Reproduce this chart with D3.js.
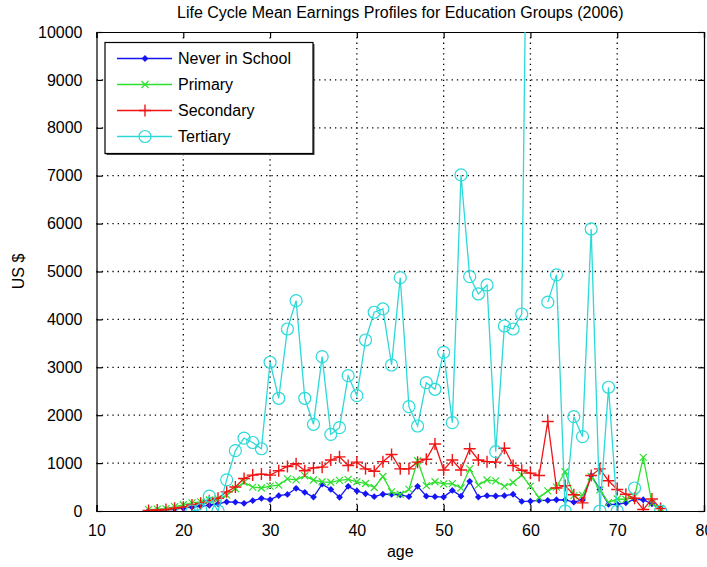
<!DOCTYPE html>
<html>
<head>
<meta charset="utf-8">
<script src="https://cdn.jsdelivr.net/npm/d3@7/dist/d3.min.js"></script>
<style>
  body { margin: 0; background: #fff; }
  text { font-family: "Liberation Sans", Arial, Helvetica, sans-serif; fill: #000; }
</style>
</head>
<body>
<svg id="chart" width="707" height="567"></svg>
<script>
// ages (x categories)
const ages = [16, 17, 18, 19, 20, 21, 22, 23, 24, 25, 26, 27, 28, 29, 30,
  31, 32, 33, 34, 35, 36, 37, 38, 39, 40, 41, 42, 43, 44, 45,
  46, 47, 48, 49, 50, 51, 52, 53, 54, 55, 56, 57, 58, 59, 60,
  61, 62, 63, 64, 65, 66, 67, 68, 69, 70, 71, 72, 73, 74, 75];

// mean earnings, US $
const neverInSchool = [5, 10, 20, 40, 60, 80, 100, 120, 150, 190, 185, 160, 215, 265, 237,
  320, 345, 474, 390, 290, 560, 450, 286, 515, 420, 360, 300, 350, 350, 335,
  300, 515, 310, 300, 290, 430, 310, 620, 290, 320, 313, 320, 350, 200, 205,
  220, 220, 235, 230, 185, 230, 740, 450, 140, 140, 170, 245, 235, 150, 56];

const primary = [30, 40, 50, 90, 130, 170, 190, 230, 250, 330, 470, 600, 500, 480, 520,
  540, 670, 650, 735, 647, 610, 600, 640, 660, 610, 575, 490, 720, 400, 350,
  450, 1050, 530, 610, 565, 570, 480, 880, 540, 647, 630, 515, 595, 750, 520,
  280, 420, 500, 820, 320, 330, 720, 440, 180, 250, 240, 300, 1120, 160, 56];

const secondary = [10, 20, 30, 60, 80, 125, 160, 215, 265, 400, 500, 680, 750, 770, 750,
  840, 930, 985, 840, 900, 915, 1065, 1130, 950, 1020, 880, 830, 1030, 1180, 880,
  880, 1020, 1080, 1400, 856, 1065, 856, 1300, 1065, 1030, 1020, 1310, 950, 850, 790,
  740, 1870, 480, 530, 340, 170, 740, 880, 630, 450, 350, 265, 30, 250, 50];

// null = no observation for that age
const tertiary = [null, null, null, null, null, 0, 30, 310, 0, 650, 1260, 1520, 1430, 1300, 3105,
  2353, 3800, 4391, 2353, 1810, 3222, 1600, 1740, 2825, 2408, 3570, 4149, 4218, 3048, 4871,
  2178, 1775, 2679, 2541, 3313, 1844, 7016, 4893, 4531, 4719, 1238, 3863, 3800, 4113, 19500,
  null, 4360, 4930, 0, 1969, 1552, 5888, 0, 2583, 0, null, 480, null, null, 0];

const xTicks = [10, 20, 30, 40, 50, 60, 70, 80];
const yTicks = [0, 1000, 2000, 3000, 4000, 5000, 6000, 7000, 8000, 9000, 10000];

const series = [
  { name: 'Never in School', values: neverInSchool, color: '#1414f5', marker: 'dot' },
  { name: 'Primary', values: primary, color: '#2ee02e', marker: 'x' },
  { name: 'Secondary', values: secondary, color: '#f01414', marker: 'plus' },
  { name: 'Tertiary', values: tertiary, color: '#2cd9d9', marker: 'circle' },
];

const svg = d3.select('#chart');
const margin = { top: 32, right: 3, bottom: 56, left: 96.5 };
const width = +svg.attr('width') - margin.left - margin.right;
const height = +svg.attr('height') - margin.top - margin.bottom;

const x = d3.scaleLinear().domain([10, 80]).range([0, width]);
const y = d3.scaleLinear().domain([0, 10000]).range([height, 0]);

const g = svg.append('g')
  .attr('transform', 'translate(' + margin.left + ',' + margin.top + ')');

g.append('clipPath').attr('id', 'plotClip')
  .append('rect').attr('width', width).attr('height', height);

// dotted grid
g.append('g').selectAll('line')
  .data(xTicks.slice(1, -1))
  .join('line')
  .attr('x1', (d) => x(d)).attr('x2', (d) => x(d))
  .attr('y1', 0).attr('y2', height)
  .attr('stroke', '#000').attr('stroke-width', 1.3)
  .attr('stroke-dasharray', '1.3,4');
g.append('g').selectAll('line')
  .data(yTicks.slice(1, -1))
  .join('line')
  .attr('y1', (d) => y(d)).attr('y2', (d) => y(d))
  .attr('x1', 0).attr('x2', width)
  .attr('stroke', '#000').attr('stroke-width', 1.3)
  .attr('stroke-dasharray', '1.3,4');

// axes, ticks point inwards (MATLAB style)
const tick = 6;
g.append('g')
  .attr('transform', 'translate(0,' + height + ')')
  .call(d3.axisBottom(x).tickValues(xTicks).tickSize(-tick).tickPadding(14).tickFormat(d3.format('d')));
g.append('g')
  .call(d3.axisTop(x).tickValues(xTicks).tickSize(-tick).tickFormat(''));
g.append('g')
  .call(d3.axisLeft(y).tickValues(yTicks).tickSize(-tick).tickPadding(14).tickFormat(d3.format('d')));
g.append('g')
  .attr('transform', 'translate(' + width + ',0)')
  .call(d3.axisRight(y).tickValues(yTicks).tickSize(-tick).tickFormat(''));

g.selectAll('.domain').attr('stroke', '#000').attr('stroke-width', 1.2);
g.selectAll('.tick line').attr('stroke', '#000').attr('stroke-width', 1.2);
g.selectAll('.tick text').attr('font-size', 16).style('font-family', '"Liberation Sans", Arial, sans-serif');

// series
const plot = g.append('g').attr('clip-path', 'url(#plotClip)');

function drawMarker(sel, type, color) {
  if (type === 'dot') {
    sel.append('path').attr('d', 'M0,-3.4L3.4,0L0,3.4L-3.4,0Z').attr('fill', color);
  } else if (type === 'x') {
    sel.append('path').attr('d', 'M-3.5,-3.5L3.5,3.5M-3.5,3.5L3.5,-3.5')
      .attr('stroke', color).attr('stroke-width', 1.2).attr('fill', 'none');
  } else if (type === 'plus') {
    sel.append('path').attr('d', 'M-6,0H6M0,-6V6')
      .attr('stroke', color).attr('stroke-width', 1.4).attr('fill', 'none');
  } else {
    sel.append('circle').attr('r', 6)
      .attr('stroke', color).attr('stroke-width', 1.2).attr('fill', 'none');
  }
}

series.forEach((s) => {
  const pts = ages.map((a, i) => ({ age: a, v: s.values[i] }));
  const line = d3.line()
    .defined((d) => d.v !== null)
    .x((d) => x(d.age))
    .y((d) => y(d.v));
  plot.append('path')
    .datum(pts)
    .attr('fill', 'none')
    .attr('stroke', s.color)
    .attr('stroke-width', 1.3)
    .attr('d', line);
  plot.append('g').selectAll('g')
    .data(pts.filter((d) => d.v !== null))
    .join('g')
    .attr('transform', (d) => 'translate(' + x(d.age) + ',' + y(d.v) + ')')
    .each(function () { drawMarker(d3.select(this), s.marker, s.color); });
});

// legend
const legend = g.append('g').attr('transform', 'translate(8.5,10.5)');
legend.append('rect')
  .attr('x', 1.5).attr('y', 1.5).attr('width', 208).attr('height', 111)
  .attr('fill', '#444');
legend.append('rect')
  .attr('width', 208).attr('height', 111)
  .attr('fill', '#fff').attr('stroke', '#000').attr('stroke-width', 1.2);
series.forEach((s, i) => {
  const row = legend.append('g').attr('transform', 'translate(0,' + (16 + i * 26) + ')');
  row.append('line')
    .attr('x1', 12).attr('x2', 67)
    .attr('stroke', s.color).attr('stroke-width', 1.3);
  drawMarker(row.append('g').attr('transform', 'translate(40,0)'), s.marker, s.color);
  row.append('text')
    .attr('x', 73).attr('dy', '0.35em')
    .attr('font-size', 16)
    .text(s.name);
});

// title and axis labels
svg.append('text')
  .attr('x', margin.left + width / 2).attr('y', 18)
  .attr('text-anchor', 'middle').attr('font-size', 16)
  .text('Life Cycle Mean Earnings Profiles for Education Groups (2006)');
svg.append('text')
  .attr('x', margin.left + width / 2).attr('y', 557)
  .attr('text-anchor', 'middle').attr('font-size', 16)
  .text('age');
svg.append('text')
  .attr('transform', 'translate(24,' + (margin.top + height / 2) + ') rotate(-90)')
  .attr('text-anchor', 'middle').attr('font-size', 16)
  .text('US $');
</script>
</body>
</html>
